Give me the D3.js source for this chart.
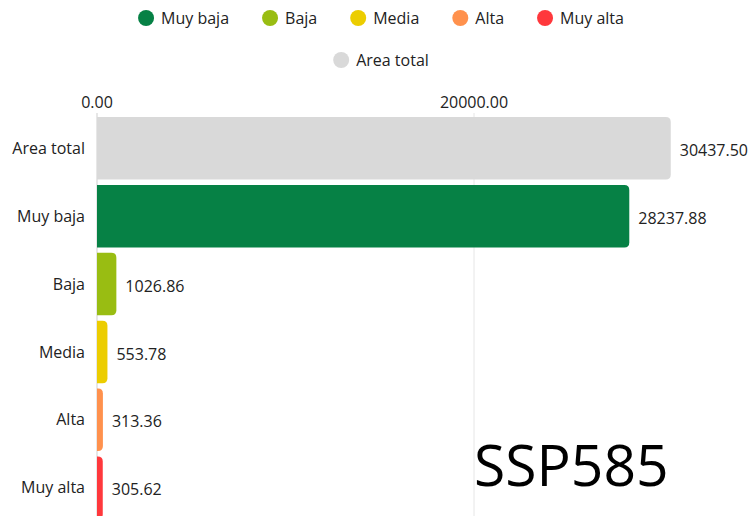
<!DOCTYPE html>
<html>
<head>
<meta charset="utf-8">
<script src="https://cdn.jsdelivr.net/npm/d3@7"></script>
<style>
  body { margin: 0; background: #fff; }
  svg text { font-family: "Open Sans", sans-serif; fill: #222; }
</style>
</head>
<body>
<script>
// datos del grafico
var categorias = ["Area total", "Muy baja", "Baja", "Media", "Alta", "Muy alta"];
var valores = [30437.50, 28237.88, 1026.86, 553.78, 313.36, 305.62];
var colores = ["#d9d9d9", "#068145", "#99bd12", "#eccd00", "#ff914d", "#ff383c"];
var leyenda1 = ["Muy baja", "Baja", "Media", "Alta", "Muy alta"];
var leyenda2 = ["Area total"];
var ticks = [0, 20000];
var escenario = "SSP585";

var width = 750, height = 516;
var left = 97;
var fs = 16;

var svg = d3.select("body").append("svg")
    .attr("width", width)
    .attr("height", height);

var x = d3.scaleLinear()
    .domain([0, 20000])
    .range([left, 474]);

var y = d3.scaleBand()
    .domain(categorias)
    .range([115, 521])
    .paddingInner(0.08)
    .paddingOuter(0.03);

// gridlines
svg.selectAll(".grid")
    .data(ticks)
    .enter()
    .append("line")
    .attr("x1", function(d) { return x(d); })
    .attr("x2", function(d) { return x(d); })
    .attr("y1", 113)
    .attr("y2", height)
    .attr("stroke", function(d) { return d == 0 ? "#cfcfcf" : "#e6e6e6"; })
    .attr("stroke-width", 1);

// ticks arriba
svg.selectAll(".tick")
    .data(ticks)
    .enter()
    .append("text")
    .attr("x", function(d) { return x(d); })
    .attr("y", 108)
    .attr("text-anchor", "middle")
    .attr("font-size", fs)
    .text(function(d) { return d3.format(".2f")(d); });

// barras con esquinas redondeadas a la derecha
function barra(x0, y0, w, h, r) {
  r = Math.min(r, w);
  return "M" + x0 + "," + y0 +
    "H" + (x0 + w - r) +
    "Q" + (x0 + w) + "," + y0 + " " + (x0 + w) + "," + (y0 + r) +
    "V" + (y0 + h - r) +
    "Q" + (x0 + w) + "," + (y0 + h) + " " + (x0 + w - r) + "," + (y0 + h) +
    "H" + x0 + "Z";
}

svg.selectAll(".bar")
    .data(valores)
    .enter()
    .append("path")
    .attr("d", function(d, i) {
      return barra(x(0), y(categorias[i]), x(d) - x(0), y.bandwidth(), 5);
    })
    .attr("fill", function(d, i) { return colores[i]; });

svg.selectAll(".cat")
    .data(categorias)
    .enter()
    .append("text")
    .attr("x", 85)
    .attr("y", function(d) { return y(d) + y.bandwidth() / 2; })
    .attr("dy", "0.35em")
    .attr("text-anchor", "end")
    .attr("font-size", fs)
    .text(function(d) { return d; });

svg.selectAll(".val")
    .data(valores)
    .enter()
    .append("text")
    .attr("x", function(d) { return x(d) + 9; })
    .attr("y", function(d, i) { return y(categorias[i]) + y.bandwidth() / 2 + 2; })
    .attr("dy", "0.35em")
    .attr("font-size", fs)
    .text(function(d) { return d3.format(".2f")(d); });

// leyenda
function leyenda(items, cy, cols) {
  var g = svg.append("g");
  var pos = 0;
  items.forEach(function(t, i) {
    var it = g.append("g").attr("transform", "translate(" + pos + ",0)");
    it.append("circle").attr("cx", 8).attr("cy", cy).attr("r", 8).attr("fill", cols[i]);
    var tx = it.append("text").attr("x", 23).attr("y", cy).attr("dy", "0.35em")
      .attr("font-size", fs).text(t);
    pos += 23 + tx.node().getComputedTextLength() + 33;
  });
  var w = pos - 33;
  g.attr("transform", "translate(" + (381 - w / 2) + ",0)");
}
leyenda(leyenda1, 18, colores.slice(1));
leyenda(leyenda2, 60, [colores[0]]);

svg.append("text")
    .attr("x", 474)
    .attr("y", 486)
    .attr("font-size", 57)
    .style("fill", "#000")
    .text(escenario);
</script>
</body>
</html>
